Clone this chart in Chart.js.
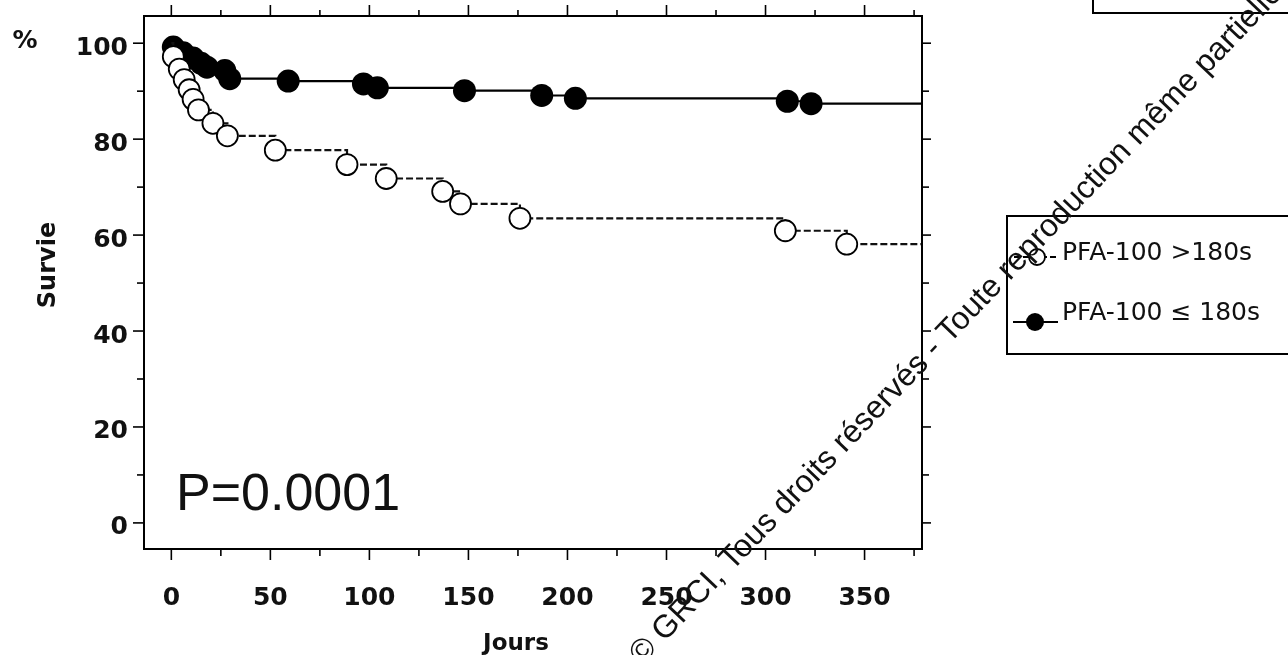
<!DOCTYPE html>
<html><head><meta charset="utf-8">
<script src="https://cdn.jsdelivr.net/npm/chart.js@4.4.1/dist/chart.umd.min.js"></script>
<style>html,body{margin:0;padding:0;background:#fff;}#wrap{width:1288px;height:655px;}</style>
</head><body><div id="wrap"><canvas id="c" width="1288" height="655"></canvas></div>
<script>
// Series: PFA-100 >180s (open circles, dashed)
const daysHigh = [0, 1, 4, 6.5, 9, 11, 13.7, 21, 28.3, 52.5, 88.7, 108.5, 137, 146, 176, 310, 341, 379];
const survHigh = [100, 97.2, 94.6, 92.4, 90.3, 88.3, 86.1, 83.3, 80.7, 77.7, 74.7, 71.8, 69.1, 66.5, 63.5, 60.9, 58.1, 58.1];
// Series: PFA-100 <= 180s (filled circles, solid)
const daysLow = [0, 1, 6, 11, 15, 18, 27, 29.5, 59, 97, 104, 148, 187, 204, 311, 323, 379];
const survLow = [100, 99.2, 98.0, 96.9, 95.8, 95.0, 94.3, 92.6, 92.1, 91.5, 90.7, 90.1, 89.1, 88.5, 87.9, 87.4, 87.4];

const seriesNames = ['PFA-100 >180s', 'PFA-100 \u2264 180s'];
const xTickValues = [0, 50, 100, 150, 200, 250, 300, 350];
const xMinorValues = [25, 75, 125, 175, 225, 275, 325, 375];
const yTickValues = [0, 20, 40, 60, 80, 100];
const yMinorValues = [10, 30, 50, 70, 90];
const xRange = [-13.8, 379];
const yRange = [-5.44, 105.67];
const xTitle = 'Jours';
const yTitle = 'Survie';
const yUnit = '%';
const pText = 'P=0.0001';
const watermark = '\u00A9 GRCI, Tous droits r\u00E9serv\u00E9s - Toute reproduction m\u00EAme partielle interdite';

const toXY = (xs, ys) => xs.map((v, i) => ({x: v, y: ys[i]}));
const edgeRadius = (r) => (c) => (c.dataIndex === 0 || c.dataIndex === c.dataset.data.length - 1) ? 0 : r;

const tickFont = {family: 'DejaVu Sans', size: 25, weight: 'bold'};

const decor = {
  id: 'decor',
  afterDraw(chart) {
    const {ctx, chartArea: a, scales: {x, y}} = chart;
    ctx.save();
    ctx.strokeStyle = '#000';
    ctx.lineWidth = 2;
    ctx.strokeRect(a.left, a.top, a.right - a.left, a.bottom - a.top);
    ctx.lineWidth = 1.6;
    const seg = (x1, y1, x2, y2) => { ctx.beginPath(); ctx.moveTo(x1, y1); ctx.lineTo(x2, y2); ctx.stroke(); };
    xTickValues.forEach(v => { const p = x.getPixelForValue(v); seg(p, a.bottom, p, a.bottom + 11); seg(p, a.top, p, a.top - 11); });
    xMinorValues.forEach(v => { const p = x.getPixelForValue(v); seg(p, a.bottom, p, a.bottom + 7); seg(p, a.top, p, a.top - 6); });
    yTickValues.forEach(v => { const p = y.getPixelForValue(v); seg(a.left, p, a.left - 11, p); seg(a.right, p, a.right + 9, p); });
    yMinorValues.forEach(v => { const p = y.getPixelForValue(v); seg(a.left, p, a.left - 7, p); seg(a.right, p, a.right + 7, p); });

    ctx.fillStyle = '#111';
    ctx.font = 'bold 23px "DejaVu Sans"';
    ctx.textAlign = 'center';
    ctx.textBaseline = 'alphabetic';
    ctx.fillText(xTitle, (a.left + a.right) / 2 - 17, 650);
    ctx.save();
    ctx.translate(55, 265);
    ctx.rotate(-Math.PI / 2);
    ctx.font = 'bold 24px "DejaVu Sans"';
    ctx.fillText(yTitle, 0, 0);
    ctx.restore();
    ctx.font = 'bold 25px "DejaVu Sans"';
    ctx.fillText(yUnit, 25, 48);

    ctx.textAlign = 'left';
    ctx.font = '52px "Liberation Sans"';
    ctx.fillText(pText, 176, 510);

    ctx.lineWidth = 2;
    ctx.strokeRect(1007, 216, 320, 138);
    ctx.strokeRect(1093, -10, 320, 23);
    ctx.lineWidth = 1.8;
    ctx.setLineDash([6, 3]);
    seg(1014, 257, 1058, 257);
    ctx.setLineDash([]);
    ctx.fillStyle = '#fff';
    ctx.beginPath(); ctx.arc(1037, 257, 8, 0, Math.PI * 2); ctx.fill(); ctx.stroke();
    ctx.lineWidth = 2;
    seg(1013, 322, 1058, 322);
    ctx.fillStyle = '#000';
    ctx.beginPath(); ctx.arc(1035, 322, 9, 0, Math.PI * 2); ctx.fill();
    ctx.fillStyle = '#111';
    ctx.font = '25px "DejaVu Sans"';
    ctx.fillText(seriesNames[0], 1062, 260);
    ctx.fillText(seriesNames[1], 1062, 320);

    ctx.save();
    ctx.translate(642, 666);
    ctx.rotate(-46.3 * Math.PI / 180);
    ctx.font = '32px "Liberation Sans"';
    ctx.fillStyle = '#111';
    ctx.fillText(watermark, 0, 0);
    ctx.restore();
    ctx.restore();
  }
};

const noPad = s => { s.paddingTop = 0; s.paddingBottom = 0; s.paddingLeft = 0; s.paddingRight = 0; };

new Chart(document.getElementById('c'), {
  type: 'scatter',
  data: {
    datasets: [
      {
        label: seriesNames[0],
        data: toXY(daysHigh, survHigh),
        showLine: true, stepped: true,
        borderColor: '#111', borderWidth: 2.2, borderDash: [7, 3],
        pointRadius: edgeRadius(10.5), pointBorderWidth: 1.8,
        pointBackgroundColor: '#fff', pointBorderColor: '#000'
      },
      {
        label: seriesNames[1],
        data: toXY(daysLow, survLow),
        showLine: true, stepped: true,
        borderColor: '#000', borderWidth: 2.2,
        pointRadius: edgeRadius(11.5), pointBorderWidth: 0,
        pointBackgroundColor: '#000', pointBorderColor: '#000'
      }
    ]
  },
  options: {
    responsive: false, animation: false,
    layout: {padding: {left: 0, top: 16, right: 366, bottom: 0}},
    plugins: {legend: {display: false}, tooltip: {enabled: false}},
    scales: {
      x: {
        type: 'linear', position: 'bottom', min: xRange[0], max: xRange[1],
        afterBuildTicks: s => { s.ticks = xTickValues.map(v => ({value: v})); },
        afterFit: s => { s.height = 106; noPad(s); },
        grid: {display: false, drawTicks: false}, border: {display: false},
        ticks: {font: tickFont, color: '#111', padding: 34, maxRotation: 0, autoSkip: false}
      },
      y: {
        type: 'linear', position: 'left', min: yRange[0], max: yRange[1],
        afterBuildTicks: s => { s.ticks = yTickValues.map(v => ({value: v})); },
        afterFit: s => { s.width = 144; noPad(s); },
        grid: {display: false, drawTicks: false}, border: {display: false},
        ticks: {font: tickFont, color: '#111', padding: 16, labelOffset: 5, autoSkip: false}
      }
    }
  },
  plugins: [decor]
});
</script></body></html>
